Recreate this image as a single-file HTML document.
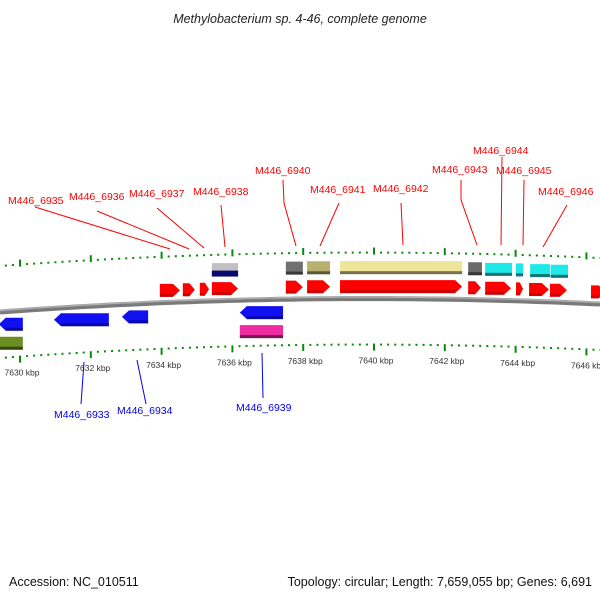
<!DOCTYPE html>
<html><head><meta charset="utf-8"><style>
body{margin:0;background:#fff}
svg{display:block;font-family:"Liberation Sans","DejaVu Sans",sans-serif}
</style></head><body>
<svg id="chart" width="600" height="600" viewBox="0 0 600 600">
<text x="300" y="23" text-anchor="middle" font-size="12.5" font-style="italic" fill="#222">Methylobacterium sp. 4-46, complete genome</text>
<text x="9" y="586" font-size="12.5" fill="#111">Accession: NC_010511</text>
<text x="592" y="586" text-anchor="end" font-size="12.5" fill="#111">Topology: circular; Length: 7,659,055 bp; Genes: 6,691</text>
<g id="g"></g>
</svg>
<script>
const tickKbp=[7630,7632,7634,7636,7638,7640,7642,7644,7646];
const fwdStart=[7633.95,7634.60,7635.08,7635.42,7637.51,7638.11,7639.04,7642.66,7643.14,7644.01,7644.38,7644.97,7646.13];
const fwdEnd=[7634.52,7634.94,7635.34,7636.16,7637.99,7638.76,7642.49,7643.02,7643.87,7644.21,7644.94,7645.45,7646.53];
const upStart=[7635.42,7637.51,7638.11,7639.04,7642.66,7643.14,7644.01,7644.41,7644.99];
const upEnd=[7636.16,7637.99,7638.76,7642.49,7643.05,7643.90,7644.21,7644.97,7645.48];
const upColor=["#c0c0c0","#707070","#b8b070","#eee49a","#6a6a6a","#1ee8e8","#1ee8e8","#1ee8e8","#1ee8e8"];
const revStart=[7629.4,7630.96,7632.88,7636.21];
const revEnd=[7630.08,7632.51,7633.62,7637.43];
const lowStart=[7629.4,7636.21];
const lowEnd=[7630.08,7637.43];
const lowColor=["#6b8e23","#ee2ba0"];
const upLabels=["M446_6935","M446_6936","M446_6937","M446_6938","M446_6940","M446_6941","M446_6942","M446_6943","M446_6944","M446_6945","M446_6946"];
const lowLabels=["M446_6933","M446_6934","M446_6939"];

const g=document.getElementById('g');
const NS='http://www.w3.org/2000/svg';
function X(k){return 20+(k-7630)*35.4;}
function B(x){return 312-0.0733*x+1e-4*x*x;}
function mk(t,a,p){const e=document.createElementNS(NS,t);for(const k in a)e.setAttribute(k,a[k]);(p||g).appendChild(e);return e;}

let d='';for(let x=0;x<=600;x+=10)d+=(x?'L':'M')+x+' '+B(x).toFixed(1);
const bb=mk('path',{d:d,stroke:'#7a7a7a','stroke-width':5,fill:'none'});

const bb2=mk('path',{d:d,stroke:'#b0b0b0','stroke-width':1.5,fill:'none',transform:'translate(0,-1.5)'});


for(let k=7628;k<=7648.01;k+=0.2){
  const kk=Math.round(k*10)/10;const x=X(kk);if(x<-2||x>602)continue;
  const major=Math.abs(kk/2-Math.round(kk/2))<1e-6;
  const yb=B(x);
  const t1=mk('rect',{x:x-1,y:yb-47-(major?4:0),width:2,height:major?7:2,fill:'#0a8a0a'});
  
  const t2=mk('rect',{x:x-1,y:yb+45,width:2,height:major?7:2,fill:'#0a8a0a'});
  
}
tickKbp.forEach(k=>{const x=X(k);
  const t=mk('text',{x:x+2,y:B(x)+65,'text-anchor':'middle','font-size':8.5,fill:'#333'});
  t.textContent=k+' kbp';
  });

function box(x1,x2,yc,h,col,dark,dir,name){
  const w=x2-x1,hd=Math.min(7,w*0.45);let p;
  if(dir>0)p=`M${x1} ${yc-h/2}L${x2-hd} ${yc-h/2}L${x2} ${yc}L${x2-hd} ${yc+h/2}L${x1} ${yc+h/2}Z`;
  else if(dir<0)p=`M${x2} ${yc-h/2}L${x1+hd} ${yc-h/2}L${x1} ${yc}L${x1+hd} ${yc+h/2}L${x2} ${yc+h/2}Z`;
  else p=`M${x1} ${yc-h/2}H${x2}V${yc+h/2}H${x1}Z`;
  const e=mk('path',{d:p,fill:col});
  
  const s=mk('rect',{x:x1+(dir<0?hd:0),y:yc+h/2-3,width:w-hd*(dir?1:0),height:3,fill:dark,opacity:0.5});
  
}
fwdStart.forEach((s,i)=>{const x1=X(s),x2=X(fwdEnd[i]);box(x1,x2,B((x1+x2)/2)-12,13,'#ff0000','#a00000',1,'forward-gene');});
upStart.forEach((s,i)=>{const x1=X(s),x2=X(upEnd[i]);box(x1,x2,B((x1+x2)/2)-31,13,upColor[i],'#000',0,'upper-feature');
  if(i===0){const n=mk('rect',{x:x1,y:B((x1+x2)/2)-30,width:x2-x1,height:6,fill:'#0a0a6e'});}});
revStart.forEach((s,i)=>{const x1=X(s),x2=X(revEnd[i]);box(x1,x2,B((x1+x2)/2)+13,13,'#1010f0','#000060',-1,'reverse-gene');});
lowStart.forEach((s,i)=>{const x1=X(s),x2=X(lowEnd[i]);box(x1,x2,B((x1+x2)/2)+32,13,lowColor[i],'#000',0,'lower-feature');});

const upLab=[[8,204,[[35,207],[170,249]]],[69,200,[[97,211],[189,249]]],[129,197,[[157,208],[204,248]]],[193,195,[[221,205],[225,247]]],[255,174,[[283,180],[284,203],[296,246]]],[310,193,[[339,203],[320,246]]],[373,192,[[401,203],[403,245]]],[432,173,[[461,180],[461,200],[477,245]]],[473,154,[[502,157],[501,245]]],[496,174,[[524,180],[523,245]]],[538,195,[[567,205],[543,247]]]];
upLabels.forEach((l,i)=>{const [x,y,pts]=upLab[i];
  const t=mk('text',{x:x,y:y,'font-size':10.5,fill:'#ff0000'});t.textContent=l;
  
  const pl=mk('polyline',{points:pts.map(p=>p.join(',')).join(' '),stroke:'#ff0000','stroke-width':1,fill:'none'});
  });
const lowLab=[[54,418,[[84,362],[81,404]]],[117,414,[[137,360],[146,404]]],[236,411,[[262,353],[263,398]]]];
lowLabels.forEach((l,i)=>{const [x,y,pts]=lowLab[i];
  const t=mk('text',{x:x,y:y,'font-size':10.5,fill:'#0000ee'});t.textContent=l;
  
  const pl=mk('polyline',{points:pts.map(p=>p.join(',')).join(' '),stroke:'#0000ee','stroke-width':1,fill:'none'});
  });
</script>
</body></html>
